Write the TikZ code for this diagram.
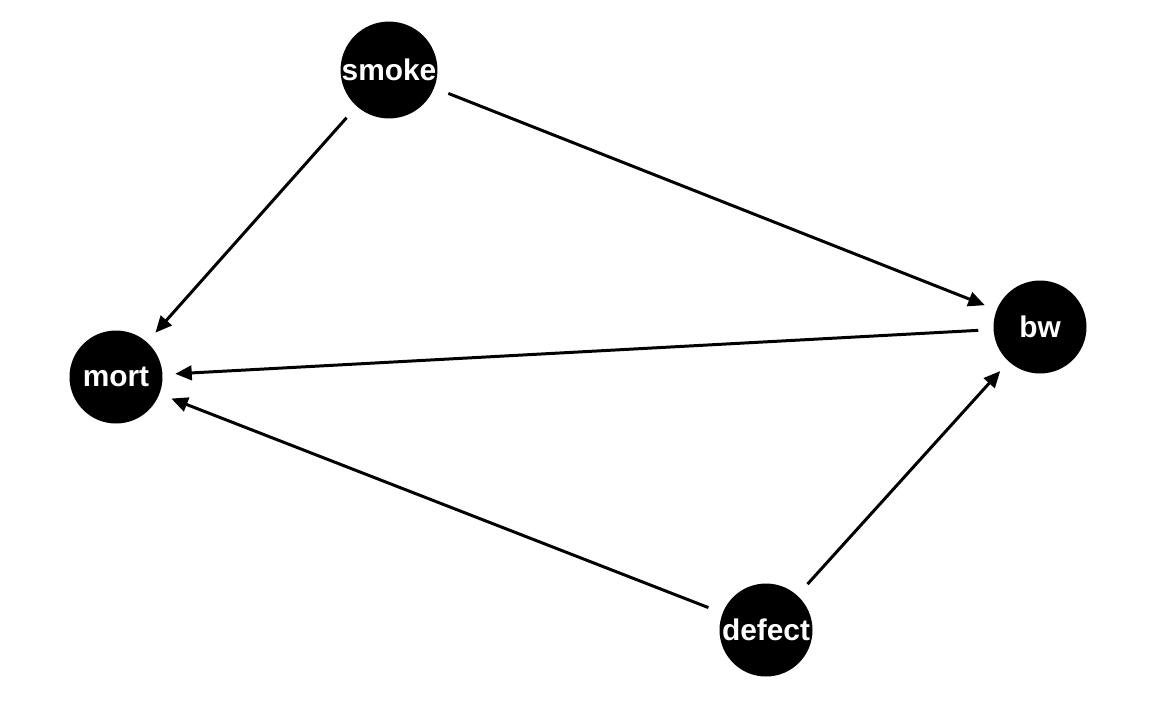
\documentclass[tikz,border=0pt]{standalone}
\usepackage{fontspec}
\setmainfont{Liberation Sans}
\usetikzlibrary{arrows.meta}

\begin{document}
\begin{tikzpicture}[x=0.02cm, y=-0.02cm,
  var/.style={circle, fill=black, text=white, minimum size=1.86cm, inner sep=0pt,
    font=\fontsize{17}{19}\selectfont\bfseries},
  arr/.style={-{Triangle[length=3.3mm, width=2.9mm]}, line width=1.7pt,
    shorten <=0.3cm, shorten >=0.25cm}]
\useasboundingbox (0,0) rectangle (1152,711);
% variables
\node[var] (smoke) at (389,70) {smoke};
\node[var] (mort) at (116,377) {mort};
\node[var] (bw) at (1040,327) {bw};
\node[var] (defect) at (766,630) {defect};
% edges
\draw[arr] (smoke) -- (mort);
\draw[arr] (smoke) -- (bw);
\draw[arr] (bw) -- (mort);
\draw[arr] (defect) -- (mort);
\draw[arr] (defect) -- (bw);
\end{tikzpicture}
\end{document}
